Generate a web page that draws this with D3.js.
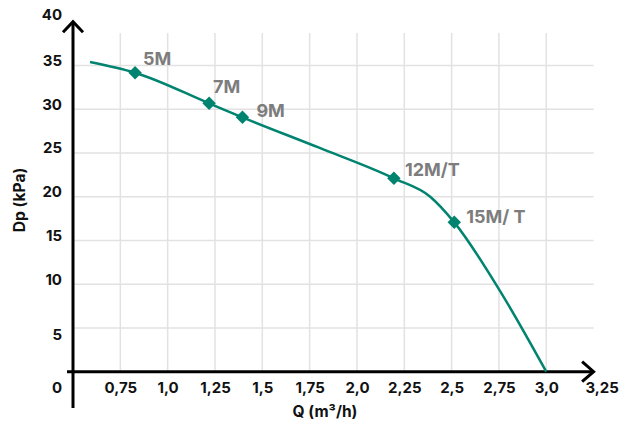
<!DOCTYPE html>
<html>
<head>
<meta charset="utf-8">
<script src="https://cdn.jsdelivr.net/npm/d3@7"></script>
<style>
  html, body { margin: 0; padding: 0; background: #fff; }
  svg { display: block; font-family: Inter, "Noto Sans", sans-serif; }
</style>
</head>
<body>
<svg id="chart" width="630" height="427"></svg>
<script>
// Pump curve: pressure drop Dp (kPa) against flow Q (m³/h)
const curveQ  = [0.59, 0.828, 1.219, 1.395, 1.80, 2.195, 2.387, 2.514, 2.748, 3.0];
const curveDp = [35.4, 34.17, 30.67, 29.07, 25.6, 22.1, 20.0, 17.07, 9.5, 0];

// Model operating points
const pointNames = ["5M", "7M", "9M", "12M/T", "15M/ T"];
const pointQ     = [0.828, 1.219, 1.395, 2.195, 2.514];
const pointDp    = [34.17, 30.67, 29.07, 22.1, 17.07];

// Axis ticks
const xTickValues = [0.75, 1.0, 1.25, 1.5, 1.75, 2.0, 2.25, 2.5, 2.75, 3.0, 3.25];
const xTickLabels = ["0,75", "1,0", "1,25", "1,5", "1,75", "2,0", "2,25", "2,5", "2,75", "3,0", "3,25"];
const yTickValues = [5, 10, 15, 20, 25, 30, 35, 40];
const yTickLabels = ["5", "10", "15", "20", "25", "30", "35", "40"];
const originLabel = "0";

const xTitle = "Q (m³/h)";
const yTitle = "Dp (kPa)";

const teal = "#00836f";
const grey = "#7d7d7d";
const gridColor = "#e2e2e2";
const ink = "#111";
const tickFont = 15;

const svg = d3.select("#chart");

const x = d3.scaleLinear().domain([0.5, 3.25]).range([73, 593.6]);
const y = d3.scaleLinear().domain([0, 40]).range([371.7, 21.7]);

// Grid
const grid = svg.append("g");
grid.selectAll("line.v")
  .data(xTickValues.filter(v => v < 3.25))
  .join("line")
  .attr("x1", d => x(d)).attr("x2", d => x(d))
  .attr("y1", y(38.7)).attr("y2", y(0))
  .attr("stroke", gridColor).attr("stroke-width", 1.5);
grid.selectAll("line.h")
  .data(yTickValues.filter(v => v < 40))
  .join("line")
  .attr("x1", x(0.5)).attr("x2", x(3.25))
  .attr("y1", d => y(d)).attr("y2", d => y(d))
  .attr("stroke", gridColor).attr("stroke-width", 1.5);

// X tick labels
const xAxis = d3.axisBottom(x)
  .tickValues(xTickValues)
  .tickFormat((d, i) => xTickLabels[i])
  .tickSize(0).tickPadding(0);
const gx = svg.append("g").attr("transform", `translate(0,${y(0)})`).call(xAxis);
gx.select(".domain").remove();
gx.selectAll("text")
  .attr("y", 21).attr("dy", 0)
  .attr("dx", (d) => d === 3.25 ? 8 : 0)
  .attr("fill", ink).attr("font-size", tickFont).attr("font-weight", 700)
  .attr("font-family", "Inter, 'Noto Sans', sans-serif");

// Y tick labels
const yAxis = d3.axisLeft(y)
  .tickValues(yTickValues)
  .tickFormat((d, i) => yTickLabels[i])
  .tickSize(0).tickPadding(0);
const gy = svg.append("g").attr("transform", `translate(${x(0.5)},0)`).call(yAxis);
gy.select(".domain").remove();
gy.selectAll("text")
  .attr("x", -11).attr("dy", (d) => d === 5 ? "0.75em" : d === 40 ? "-0.12em" : "0em")
  .attr("fill", ink).attr("font-size", tickFont).attr("font-weight", 700)
  .attr("font-family", "Inter, 'Noto Sans', sans-serif");

svg.append("text")
  .attr("x", x(0.5) - 11).attr("y", y(0) + 21)
  .attr("text-anchor", "end")
  .attr("fill", ink).attr("font-size", tickFont).attr("font-weight", 700)
  .text(originLabel);

// Axis lines with open arrowheads
const axes = svg.append("g").attr("stroke", "#000").attr("stroke-width", 3).attr("fill", "none");
axes.append("line").attr("x1", x(0.5)).attr("x2", x(0.5)).attr("y1", y(40)).attr("y2", 408);
axes.append("line").attr("x1", 67).attr("x2", x(3.25)).attr("y1", y(0)).attr("y2", y(0));
axes.append("path")
  .attr("d", `M${x(0.5) - 10},${y(40) + 10.5}L${x(0.5)},${y(40)}L${x(0.5) + 10},${y(40) + 10.5}`)
  .attr("stroke-linejoin", "miter");
axes.append("path")
  .attr("d", `M${x(3.25) - 11.5},${y(0) - 10}L${x(3.25)},${y(0)}L${x(3.25) - 11.5},${y(0) + 10}`)
  .attr("stroke-linejoin", "miter");

// Axis titles
svg.append("text")
  .attr("x", 325).attr("y", 417)
  .attr("text-anchor", "middle")
  .attr("fill", ink).attr("font-size", 15.5).attr("font-weight", 700)
  .text(xTitle);
svg.append("text")
  .attr("transform", `translate(25,200) rotate(-90)`)
  .attr("text-anchor", "middle")
  .attr("fill", ink).attr("font-size", 15.5).attr("font-weight", 700)
  .text(yTitle);

// Curve
const line = d3.line()
  .x((d, i) => x(curveQ[i]))
  .y((d, i) => y(curveDp[i]))
  .curve(d3.curveMonotoneX);
svg.append("path")
  .attr("d", line(curveQ))
  .attr("fill", "none")
  .attr("stroke", teal)
  .attr("stroke-width", 2.5);

// Diamond markers
svg.append("g").selectAll("rect")
  .data(pointNames)
  .join("rect")
  .attr("x", -4.75).attr("y", -4.75).attr("width", 9.5).attr("height", 9.5)
  .attr("transform", (d, i) => `translate(${x(pointQ[i])},${y(pointDp[i])}) rotate(45)`)
  .attr("fill", teal);

// Point labels
const labelOffsets = [[8, -8], [4, -10], [14, 0], [11, -2], [12, 1]];
svg.append("g").selectAll("text")
  .data(pointNames)
  .join("text")
  .attr("x", (d, i) => x(pointQ[i]) + labelOffsets[i][0])
  .attr("y", (d, i) => y(pointDp[i]) + labelOffsets[i][1])
  .attr("fill", grey)
  .attr("font-size", 18).attr("font-weight", 700)
  .text(d => d);
</script>
</body>
</html>
